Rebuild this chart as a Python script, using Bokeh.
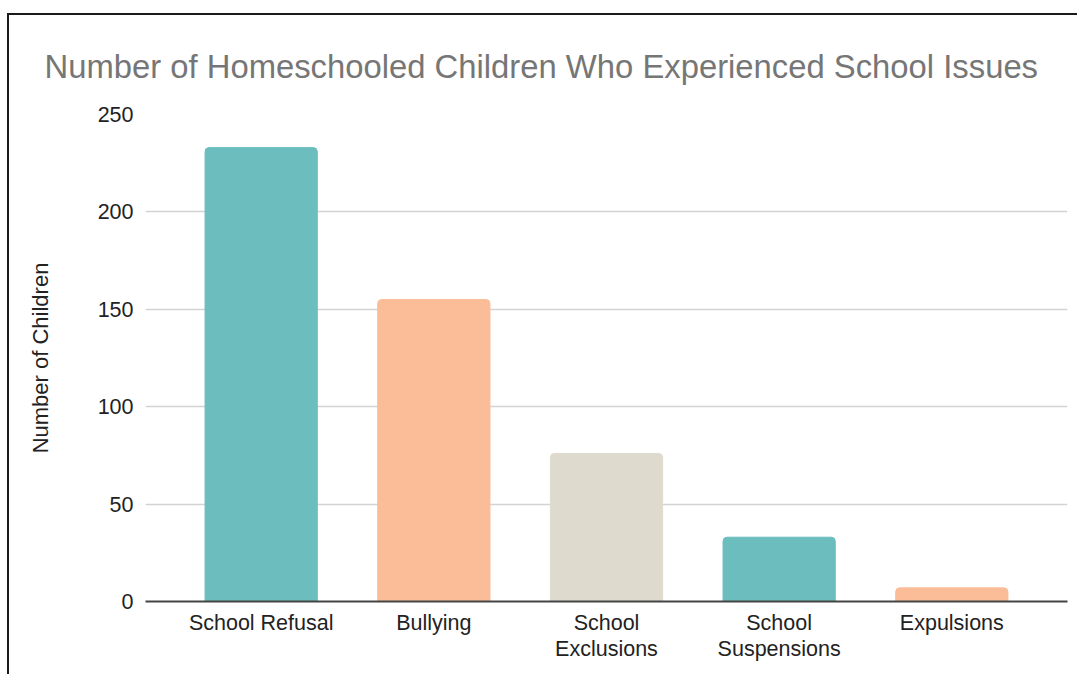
from bokeh.plotting import figure
from bokeh.models import FactorRange, ColumnDataSource, Title
from bokeh.embed import file_html
from bokeh.resources import INLINE

categories = ["School Refusal", "Bullying", "School\nExclusions", "School\nSuspensions", "Expulsions"]
counts = [233, 155, 76, 33, 7]
colors = ["#6cbdbe", "#fbbc98", "#dedbce", "#6cbdbe", "#fbbc98"]
y_ticks = [0, 50, 100, 150, 200, 250]

FONT = "Liberation Sans"

src = ColumnDataSource(dict(cat=categories, val=counts, col=colors))

p = figure(
    x_range=FactorRange(factors=categories, range_padding=0.17, range_padding_units="absolute"),
    y_range=(0, 250),
    width=1070, height=661,
    output_backend="svg", toolbar_location=None,
    min_border_left=136, min_border_right=12, min_border_top=98, min_border_bottom=75,
)
p.styles = {"border-top": "2px solid #1a1a1a", "border-left": "2px solid #1a1a1a",
            "margin-top": "13px", "margin-left": "7px"}

p.vbar(x="cat", top="val", width=0.65, color="col", source=src, border_radius=(4, 4, 0, 0))

t = Title(text="Number of Homeschooled Children Who Experienced School Issues",
          text_font=FONT, text_font_size="32.8px", text_font_style="normal",
          text_color="#767676", align="left", offset=-101, standoff=60)
p.add_layout(t, "above")

p.outline_line_color = None
p.background_fill_color = "white"
p.border_fill_color = "white"

p.xgrid.grid_line_color = None
p.ygrid.grid_line_color = "#d3d3d3"
p.ygrid.grid_line_width = 1.5
p.yaxis.ticker = y_ticks

p.yaxis.axis_line_color = None
p.yaxis.major_tick_line_color = None
p.yaxis.minor_tick_line_color = None
p.yaxis.major_label_text_font = FONT
p.yaxis.major_label_text_font_size = "21.5px"
p.yaxis.major_label_text_color = "#222222"
p.yaxis.major_label_standoff = 6
p.yaxis.axis_label = "Number of Children"
p.yaxis.axis_label_text_font = FONT
p.yaxis.axis_label_text_font_size = "22px"
p.yaxis.axis_label_text_font_style = "normal"
p.yaxis.axis_label_text_color = "#222222"
p.yaxis.axis_label_standoff = 42

p.xaxis.axis_line_color = "#444444"
p.xaxis.axis_line_width = 2
p.xaxis.major_tick_line_color = None
p.xaxis.minor_tick_line_color = None
p.xaxis.major_label_text_font = FONT
p.xaxis.major_label_text_font_size = "21.5px"
p.xaxis.major_label_text_line_height = 1.1
p.xaxis.major_label_text_color = "#222222"
p.xaxis.major_label_standoff = 3
p.xaxis.group_text_font_size = "0px"

open("out.html", "w").write(file_html(p, INLINE))
